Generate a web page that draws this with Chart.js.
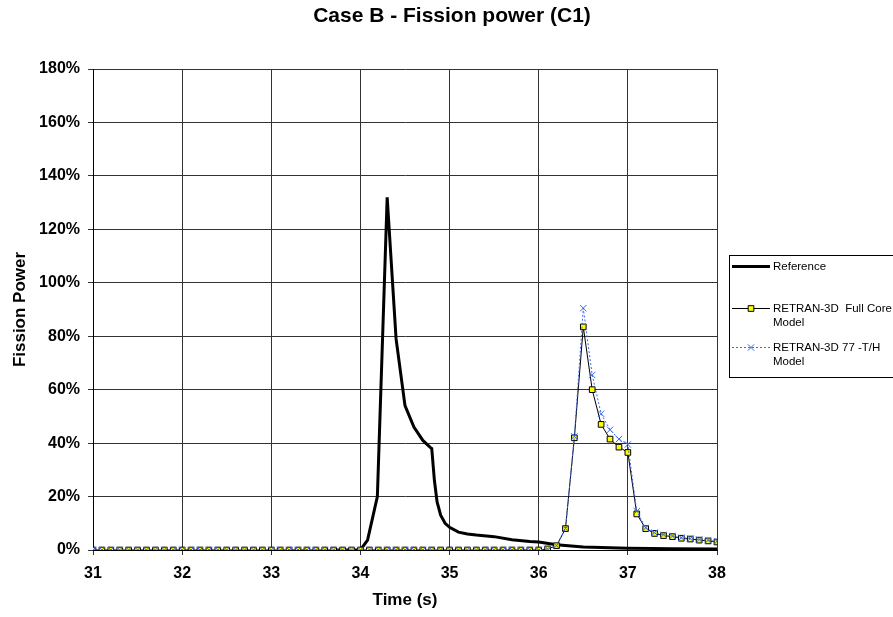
<!DOCTYPE html>
<html>
<head>
<meta charset="utf-8">
<script src="https://cdn.jsdelivr.net/npm/chart.js@4.4.0/dist/chart.umd.min.js"></script>
<style>
  body { margin: 0; background: #fff; }
  #wrap { width: 893px; height: 617px; }
</style>
</head>
<body>
<div id="wrap"><canvas id="chart" width="893" height="617"></canvas></div>
<script>
// reference solution (time in s, power in %)
const refTime = [33.7, 34.0, 34.08, 34.19, 34.3, 34.4, 34.5, 34.6, 34.7, 34.78, 34.8, 34.83, 34.86, 34.9, 34.95,
    35.0, 35.1, 35.2, 35.3, 35.5, 35.7, 35.9, 36.0, 36.2, 36.5, 37.0, 37.5, 38.0];
const refPower = [0, 0, 3.7, 20, 132, 79, 54, 46, 41, 38.5, 38, 26, 18, 13, 10,
    8.5, 6.7, 6, 5.6, 5, 3.8, 3.2, 3, 2, 1.1, 0.7, 0.5, 0.4];

// RETRAN-3D output, every 0.1 s
const retranTime = [
    31.0, 31.1, 31.2, 31.3, 31.4, 31.5, 31.6, 31.7, 31.8, 31.9,
    32.0, 32.1, 32.2, 32.3, 32.4, 32.5, 32.6, 32.7, 32.8, 32.9,
    33.0, 33.1, 33.2, 33.3, 33.4, 33.5, 33.6, 33.7, 33.8, 33.9,
    34.0, 34.1, 34.2, 34.3, 34.4, 34.5, 34.6, 34.7, 34.8, 34.9,
    35.0, 35.1, 35.2, 35.3, 35.4, 35.5, 35.6, 35.7, 35.8, 35.9,
    36.0, 36.1, 36.2, 36.3, 36.4, 36.5, 36.6, 36.7, 36.8, 36.9,
    37.0, 37.1, 37.2, 37.3, 37.4, 37.5, 37.6, 37.7, 37.8, 37.9,
    38.0];
const fullCorePower = [
    0, 0, 0, 0, 0, 0, 0, 0, 0, 0,
    0, 0, 0, 0, 0, 0, 0, 0, 0, 0,
    0, 0, 0, 0, 0, 0, 0, 0, 0, 0,
    0, 0, 0, 0, 0, 0, 0, 0, 0, 0,
    0, 0, 0, 0, 0, 0, 0, 0, 0, 0,
    0, 0.4, 1.6, 8, 42, 83.5, 60, 47, 41.5, 38.5,
    36.5, 13.5, 8, 6.2, 5.4, 5, 4.4, 4.1, 3.7, 3.4,
    3.0];
const thPower = [
    0, 0, 0, 0, 0, 0, 0, 0, 0, 0,
    0, 0, 0, 0, 0, 0, 0, 0, 0, 0,
    0, 0, 0, 0, 0, 0, 0, 0, 0, 0,
    0, 0, 0, 0, 0, 0, 0, 0, 0, 0,
    0, 0, 0, 0, 0, 0, 0, 0, 0, 0,
    0, 0.4, 1.6, 8, 42.5, 90.5, 65.5, 51, 45, 41.5,
    39.5, 14.5, 8.3, 6.5, 5.7, 5.2, 4.6, 4.3, 3.9, 3.6,
    3.2];

const xTickValues = [31, 32, 33, 34, 35, 36, 37, 38];
const yTickValues = [0, 20, 40, 60, 80, 100, 120, 140, 160, 180];

const seriesNames = ["Reference", ["RETRAN-3D  Full Core", "Model"], ["RETRAN-3D 77 -T/H", "Model"]];
const chartTitle = "Case B - Fission power (C1)";

const FONT = '"Liberation Sans", Arial, sans-serif';
Chart.defaults.font.family = FONT;
Chart.defaults.color = "#000";

const zip = (xs, ys) => xs.map((x, i) => ({ x: x, y: ys[i] }));
const BLUE = "#3a66f0";

// title + boxed legend drawn by hand (multi-line labels, box runs off the edge)
const decor = {
    id: "decor",
    afterDraw(chart) {
        const ctx = chart.ctx;
        const ds = chart.data.datasets;
        ctx.save();
        ctx.fillStyle = "#000";
        ctx.font = "bold 21px " + FONT;
        ctx.textAlign = "center";
        ctx.textBaseline = "middle";
        ctx.fillText(chartTitle, 452, 16);

        ctx.strokeStyle = "#000";
        ctx.lineWidth = 1;
        ctx.strokeRect(729.5, 255.5, 200, 122);

        const rows = [266, 308, 347];
        ctx.font = "11.5px " + FONT;
        ctx.textAlign = "left";
        rows.forEach((y, i) => {
            const d = ds[i];
            ctx.beginPath();
            ctx.strokeStyle = d.borderColor;
            ctx.lineWidth = d.borderWidth;
            ctx.setLineDash(d.borderDash || []);
            ctx.moveTo(732, y + 0.5);
            ctx.lineTo(770, y + 0.5);
            ctx.stroke();
            ctx.setLineDash([]);
            if (d.pointRadius > 0) {
                ctx.fillStyle = d.pointBackgroundColor;
                ctx.strokeStyle = d.pointBorderColor;
                ctx.lineWidth = 1;
                Chart.helpers.drawPoint(ctx, {
                    pointStyle: d.pointStyle, radius: d.pointRadius, rotation: 0, borderWidth: 1
                }, 751, y + 0.5);
            }
            ctx.fillStyle = "#000";
            const lines = [].concat(seriesNames[i]);
            lines.forEach((t, k) => ctx.fillText(t, 773, y + 1 + k * 14));
        });
        ctx.restore();
    }
};

new Chart(document.getElementById("chart"), {
    type: "line",
    data: {
        datasets: [
            {
                label: "Reference",
                data: zip(refTime, refPower),
                borderColor: "#000",
                borderWidth: 3,
                pointRadius: 0,
                order: 3
            },
            {
                label: "RETRAN-3D Full Core Model",
                data: zip(retranTime, fullCorePower),
                borderColor: "#000",
                borderWidth: 1,
                pointStyle: "rect",
                pointRadius: 4,
                pointBackgroundColor: "#ffff00",
                pointBorderColor: "#000",
                pointBorderWidth: 1,
                order: 2
            },
            {
                label: "RETRAN-3D 77 -T/H Model",
                data: zip(retranTime, thPower),
                borderColor: BLUE,
                borderWidth: 1,
                borderDash: [2, 2],
                pointStyle: "crossRot",
                pointRadius: 4.5,
                pointBackgroundColor: BLUE,
                pointBorderColor: BLUE,
                pointBorderWidth: 1,
                order: 1
            }
        ]
    },
    options: {
        responsive: false,
        animation: false,
        layout: { padding: { top: 69, right: 176, left: 0, bottom: 0 } },
        plugins: {
            legend: { display: false },
            tooltip: { enabled: false }
        },
        scales: {
            x: {
                type: "linear",
                min: 31,
                max: 38,
                afterFit: (s) => { s.height = 67; },
                afterBuildTicks: (s) => { s.ticks = xTickValues.map(v => ({ value: v })); },
                grid: { color: "#333", tickLength: 5, tickColor: "#333" },
                border: { color: "#000", width: 1 },
                ticks: { font: { size: 16, weight: "bold" }, padding: 9, maxRotation: 0 },
                title: {
                    display: true, text: "Time (s)",
                    font: { size: 17, weight: "bold" },
                    padding: { top: 0, bottom: 6 }
                }
            },
            y: {
                min: 0,
                max: 180,
                afterFit: (s) => { s.width = 93; },
                afterBuildTicks: (s) => { s.ticks = yTickValues.map(v => ({ value: v })); },
                grid: { color: "#333", tickLength: 5, tickColor: "#333" },
                border: { color: "#000", width: 1 },
                ticks: {
                    font: { size: 16, weight: "bold" }, padding: 8,
                    callback: (v) => v + "%"
                },
                title: {
                    display: true, text: "Fission Power",
                    font: { size: 17, weight: "bold" },
                    padding: { top: 10, bottom: 0 }
                }
            }
        }
    },
    plugins: [decor]
});
</script>
</body>
</html>
